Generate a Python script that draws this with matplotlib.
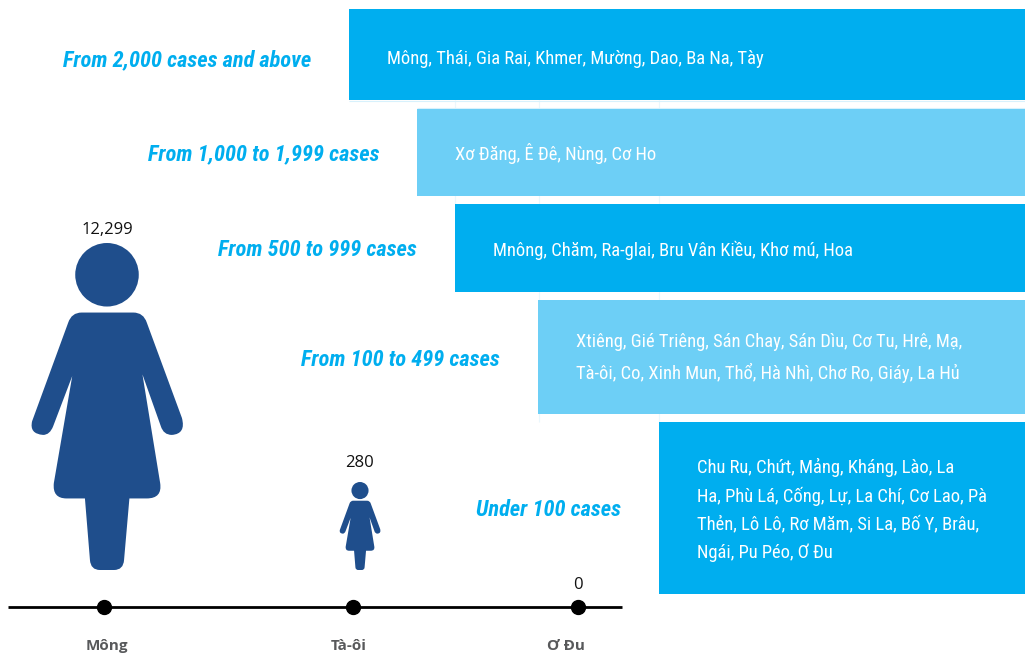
import matplotlib
matplotlib.use('Agg')
import matplotlib.pyplot as plt
from matplotlib.path import Path
from matplotlib.patches import PathPatch, Circle
from matplotlib.transforms import Affine2D

# data
groups = ['From 2,000 cases and above', 'From 1,000 to 1,999 cases', 'From 500 to 999 cases',
          'From 100 to 499 cases', 'Under 100 cases']
members = ['Mông, Thái, Gia Rai, Khmer, Mường, Dao, Ba Na, Tày',
           'Xơ Đăng, Ê Đê, Nùng, Cơ Ho',
           'Mnông, Chăm, Ra-glai, Bru Vân Kiều, Khơ mú, Hoa',
           'Xtiêng, Gié Triêng, Sán Chay, Sán Dìu, Cơ Tu, Hrê, Mạ,\nTà-ôi, Co, Xinh Mun, Thổ, Hà Nhì, Chơ Ro, Giáy, La Hủ',
           'Chu Ru, Chứt, Mảng, Kháng, Lào, La\nHa, Phù Lá, Cống, Lự, La Chí, Cơ Lao, Pà\nThẻn, Lô Lô, Rơ Măm, Si La, Bố Y, Brâu,\nNgái, Pu Péo, Ơ Đu']
names = ['Mông', 'Tà-ôi', 'Ơ Đu']
cases = ['12,299', '280', '0']

# layout, in pixels of the picture
bar_left = [349, 417, 455, 538, 659]
bar_top = [9, 108.5, 204, 300, 422]
bar_bottom = [100, 196, 292, 414, 594]
label_right = [311, 379, 417, 500, 621]
label_y = [60, 154, 250, 360, 510]
member_y = [59, 154, 250, 358, 510]
bar_colors = ['#00AEEF', '#6DCFF6', '#00AEEF', '#6DCFF6', '#00AEEF']
dot_x = [104, 353, 578]
icon_x = [107, 360, 578]
icon_h = [327, 88, 0]
name_x = [107, 349, 566]
base_y = 570
line_y = 607

NARROW = ['Roboto Condensed', 'DejaVu Sans']
BLUE = '#1F4E8C'
PALE = '#EAF7FD'

fig = plt.figure(figsize=(10.25, 6.55), dpi=100)
ax = fig.add_axes([0, 0, 1, 1])
ax.set_xlim(0, 1025)
ax.set_ylim(655, 0)
ax.axis('off')

# faint seams that show in the gaps between bars
ax.vlines([454.5], 100, 204, color=PALE, lw=0.8, zorder=1)
ax.vlines([538.5], 100, 422, color=PALE, lw=0.8, zorder=1)
ax.vlines([658.5], 100, 422, color=PALE, lw=0.8, zorder=1)
ax.hlines([100.8, 107.8], [349, 417], 1025, color='#D8F1FC', lw=0.8, zorder=1)

# group bars
for i in range(len(groups)):
    h = bar_bottom[i] - bar_top[i]
    mid = (bar_top[i] + bar_bottom[i]) / 2
    ax.barh(mid, 1025 - bar_left[i], height=h, left=bar_left[i], color=bar_colors[i], linewidth=0, zorder=2)
    ax.text(label_right[i], label_y[i], groups[i], ha='right', va='center', color='#00AEEF',
            fontsize=16.1, fontweight='bold', style='italic', family=NARROW)
    ax.text(bar_left[i] + 38, member_y[i], members[i], ha='left', va='center', color='white',
            fontsize=13.3, family=NARROW, linespacing=1.68, zorder=3)

# person icon outline, unit height, x centred, y from the top of the head
S = 978.0
def pt(x, y):
    return ((x - 321) / S, (y - 132) / S)

verts = [pt(245, 340), pt(400, 340),
         pt(430, 340), pt(440, 370),
         pt(545, 655),
         pt(558, 703), pt(515, 706),
         pt(490, 706), pt(482, 680),
         pt(427, 525), pt(480, 850),
         pt(487, 896), pt(440, 896),
         pt(388, 896), pt(372, 1080),
         pt(370, 1110), pt(342, 1110),
         pt(300, 1110),
         pt(272, 1110), pt(270, 1080),
         pt(255, 896), pt(200, 896),
         pt(157, 896), pt(162, 850),
         pt(217, 530), pt(160, 680),
         pt(150, 706), pt(130, 706),
         pt(88, 703), pt(97, 665),
         pt(205, 370),
         pt(215, 340), pt(245, 340),
         pt(245, 340)]
codes = [Path.MOVETO, Path.LINETO,
         Path.CURVE3, Path.CURVE3,
         Path.LINETO,
         Path.CURVE3, Path.CURVE3,
         Path.CURVE3, Path.CURVE3,
         Path.LINETO, Path.LINETO,
         Path.CURVE3, Path.CURVE3,
         Path.LINETO, Path.LINETO,
         Path.CURVE3, Path.CURVE3,
         Path.LINETO,
         Path.CURVE3, Path.CURVE3,
         Path.LINETO, Path.LINETO,
         Path.CURVE3, Path.CURVE3,
         Path.LINETO, Path.LINETO,
         Path.CURVE3, Path.CURVE3,
         Path.CURVE3, Path.CURVE3,
         Path.LINETO,
         Path.CURVE3, Path.CURVE3,
         Path.CLOSEPOLY]
body = Path(verts, codes)

for i in range(len(names)):
    if icon_h[i] > 0:
        top = base_y - icon_h[i]
        tr = Affine2D().scale(icon_h[i]).translate(icon_x[i], top)
        ax.add_patch(PathPatch(body, transform=tr + ax.transData, facecolor=BLUE, edgecolor='none'))
        ax.add_patch(Circle((icon_x[i], top + icon_h[i] * 95 / S), icon_h[i] * 95 / S, facecolor=BLUE, edgecolor='none'))
        val_y = top - 13 if i == 0 else top - 19
    else:
        val_y = 585
    ax.text(icon_x[i], val_y, cases[i], ha='center', va='center', fontsize=12, color='#111111', family='Open Sans')
    ax.text(name_x[i], 646, names[i], ha='center', va='center', fontsize=11, fontweight='bold',
            color='#58595B', family='Open Sans')

# axis line with dots
ax.plot([8, 622], [line_y, line_y], color='black', lw=2, solid_capstyle='butt', zorder=3)
ax.plot(dot_x, [line_y] * 3, 'o', color='black', ms=10, zorder=4)

fig.savefig('out.png', dpi=100)
